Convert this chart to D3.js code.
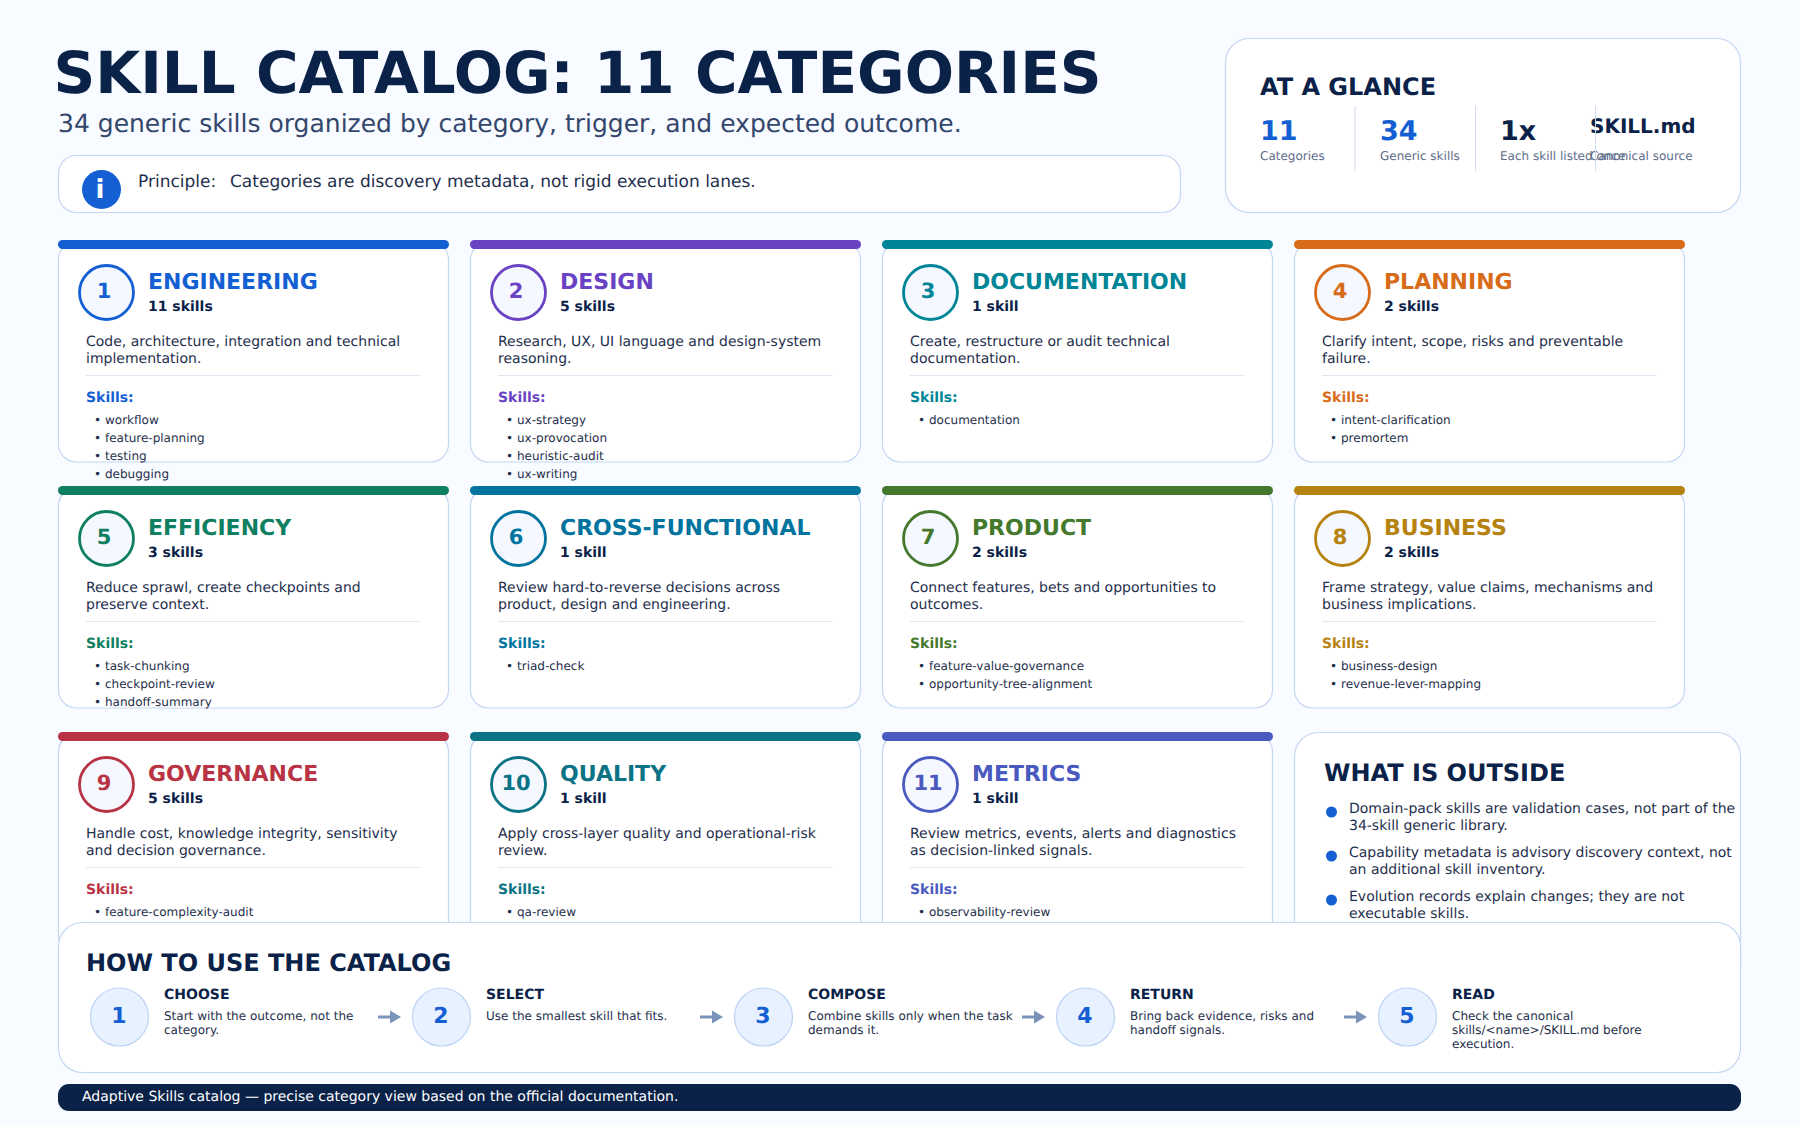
<!DOCTYPE html>
<html><head><meta charset="utf-8">
<script src="https://cdn.jsdelivr.net/npm/d3@7/dist/d3.min.js"></script>
<style>html,body{margin:0;padding:0;background:#f8fbff}svg{display:block}text{font-family:"DejaVu Sans",sans-serif;text-rendering:geometricPrecision}</style>
</head><body><svg id="c" width="1800" height="1125"></svg>
<script>
const titleText="SKILL CATALOG: 11 CATEGORIES";
const subtitleText="34 generic skills organized by category, trigger, and expected outcome.";
const categoryNames=["ENGINEERING","DESIGN","DOCUMENTATION","PLANNING","EFFICIENCY","CROSS-FUNCTIONAL","PRODUCT","BUSINESS","GOVERNANCE","QUALITY","METRICS"];
const skillCounts=[11,5,1,2,3,1,2,2,5,1,1];
const categoryColors=["#145fd3","#6a42c4","#008597","#d76b19","#0f7f62","#00749e","#44792d","#b5820f","#b83444","#0c7385","#4a5abf"];
const descriptions=[
["Code, architecture, integration and technical","implementation."],
["Research, UX, UI language and design-system","reasoning."],
["Create, restructure or audit technical","documentation."],
["Clarify intent, scope, risks and preventable","failure."],
["Reduce sprawl, create checkpoints and","preserve context."],
["Review hard-to-reverse decisions across","product, design and engineering."],
["Connect features, bets and opportunities to","outcomes."],
["Frame strategy, value claims, mechanisms and","business implications."],
["Handle cost, knowledge integrity, sensitivity","and decision governance."],
["Apply cross-layer quality and operational-risk","review."],
["Review metrics, events, alerts and diagnostics","as decision-linked signals."]];
const skillLists=[
["workflow","feature-planning","testing","debugging"],
["ux-strategy","ux-provocation","heuristic-audit","ux-writing"],
["documentation"],
["intent-clarification","premortem"],
["task-chunking","checkpoint-review","handoff-summary"],
["triad-check"],
["feature-value-governance","opportunity-tree-alignment"],
["business-design","revenue-lever-mapping"],
["feature-complexity-audit"],
["qa-review"],
["observability-review"]];
const statValues=["11","34","1x","SKILL.md"];
const statLabels=["Categories","Generic skills","Each skill listed once","Canonical source"];
const outsideNotes=[
["Domain-pack skills are validation cases, not part of the","34-skill generic library."],
["Capability metadata is advisory discovery context, not","an additional skill inventory."],
["Evolution records explain changes; they are not","executable skills."]];
const stepTitles=["CHOOSE","SELECT","COMPOSE","RETURN","READ"];
const stepTexts=[
["Start with the outcome, not the","category."],
["Use the smallest skill that fits."],
["Combine skills only when the task","demands it."],
["Bring back evidence, risks and","handoff signals."],
["Check the canonical","skills/<name>/SKILL.md before","execution."]];
const footerText="Adaptive Skills catalog — precise category view based on the official documentation.";

const NAVY="#0a2148",BLUE="#145fd3",BORDER="#c4d7f2",TXT="#1f2f4d",MUTED="#5e6c8a";
const svg=d3.select("#c");
const colX=d3.scaleLinear().domain([0,1]).range([58,470]);
const rowY=d3.scaleLinear().domain([0,1]).range([240,486]);
const stepX=d3.scaleLinear().domain([0,1]).range([119.5,441.5]);
const statX=d3.scaleOrdinal().domain([0,1,2,3]).range([1260,1380,1500,1590]);

function T(g,x,y,s,size,fill,weight,anchor){
  return g.append("text").attr("x",x).attr("y",y).text(s).attr("font-size",size).attr("fill",fill)
    .attr("font-weight",weight||"normal").attr("text-anchor",anchor||"start");
}
function box(x,y,w,h,r,fill,stroke){
  return svg.append("rect").attr("x",x+.5).attr("y",y+.5).attr("width",w).attr("height",h-1).attr("rx",r)
    .attr("fill",fill||"#fff").attr("stroke",stroke||BORDER).attr("stroke-width",1.2);
}
svg.append("rect").attr("width",1800).attr("height",1125).attr("fill","#f8fbff");
T(svg,53.5,93,titleText,58,NAVY,"bold");
T(svg,58,132,subtitleText,25,"#33466b");

box(58,155,1122,58,18);
svg.append("circle").attr("cx",101.5).attr("cy",189.5).attr("r",19.5).attr("fill",BLUE);
T(svg,100,198,"i",26,"#fff","bold","middle");
T(svg,138,187,"Principle:",17,TXT);
T(svg,230,187,"Categories are discovery metadata, not rigid execution lanes.",17,TXT);

box(1225,38,515,175,24);
T(svg,1260,95,"AT A GLANCE",24,NAVY,"bold");
statValues.forEach((v,i)=>{
  const last=i===3;
  T(svg,statX(i),last?133:140,v,last?20:27,i<2?BLUE:NAVY,"bold");
  T(svg,statX(i),160,statLabels[i],12,MUTED);
});
[1355,1475.5,1595.5].forEach(x=>svg.append("line").attr("x1",x).attr("x2",x).attr("y1",106).attr("y2",171).attr("stroke","#d0dcef").attr("stroke-width",1));

categoryNames.forEach((name,i)=>{
  const c=i%4,r=Math.floor(i/4),x=colX(c),y=rowY(r),col=categoryColors[i];
  const g=svg.append("g");
  g.append("rect").attr("x",x+.5).attr("y",y+2).attr("width",390).attr("height",220).attr("rx",18).attr("fill","#fff").attr("stroke",BORDER).attr("stroke-width",1.2);
  g.append("rect").attr("x",x).attr("y",y).attr("width",391).attr("height",9).attr("rx",4.5).attr("fill",col);
  g.append("circle").attr("cx",x+48.5).attr("cy",y+52.5).attr("r",27).attr("fill","#f5f8ff").attr("stroke",col).attr("stroke-width",2.8);
  T(g,x+46,y+58,String(i+1),21,col,"bold","middle");
  T(g,x+90,y+49,name,22,col,"bold");
  T(g,x+90,y+71,skillCounts[i]+(skillCounts[i]===1?" skill":" skills"),14,NAVY,"bold");
  descriptions[i].forEach((l,k)=>T(g,x+28,y+106+k*17,l,14,TXT));
  g.append("line").attr("x1",x+28).attr("x2",x+363).attr("y1",y+135.5).attr("y2",y+135.5).attr("stroke","#e1e8f3").attr("stroke-width",1);
  T(g,x+28,y+162,"Skills:",14,col,"bold");
  skillLists[i].forEach((s,k)=>{
    T(g,x+36,y+184+k*18,"•",12,TXT);
    T(g,x+47,y+184+k*18,s,12,TXT);
  });
});

box(1294,732,446,260,24);
T(svg,1324,781,"WHAT IS OUTSIDE",24,NAVY,"bold");
outsideNotes.forEach((n,i)=>{
  const y=813+i*44;
  svg.append("circle").attr("cx",1331.5).attr("cy",y-1).attr("r",5.5).attr("fill",BLUE);
  n.forEach((l,k)=>T(svg,1349,y+k*17,l,14,TXT));
});

box(58,922,1682,151,24);
T(svg,86,971,"HOW TO USE THE CATALOG",24,NAVY,"bold");
stepTitles.forEach((s,i)=>{
  const x=stepX(i);
  svg.append("circle").attr("cx",x).attr("cy",1017).attr("r",29).attr("fill","#e8f1ff").attr("stroke","#bdd3f4").attr("stroke-width",1.2);
  T(svg,x-0.5,1023,String(i+1),22,BLUE,"bold","middle");
  T(svg,x+44.5,999,s,14,NAVY,"bold");
  stepTexts[i].forEach((l,k)=>T(svg,x+44.5,1020+k*14,l,12,TXT));
  if(i<4){
    const a=x+258.5;
    svg.append("line").attr("x1",a).attr("x2",a+16).attr("y1",1017).attr("y2",1017).attr("stroke","#7a93b8").attr("stroke-width",3);
    svg.append("path").attr("d",d3.line()([[a+12,1010.5],[a+23,1017],[a+12,1023.5]])+"Z").attr("fill","#7a93b8");
  }
});

svg.append("rect").attr("x",58).attr("y",1084).attr("width",1683).attr("height",27).attr("rx",11).attr("fill",NAVY);
T(svg,82,1101,footerText,14,"#fff");
</script></body></html>
